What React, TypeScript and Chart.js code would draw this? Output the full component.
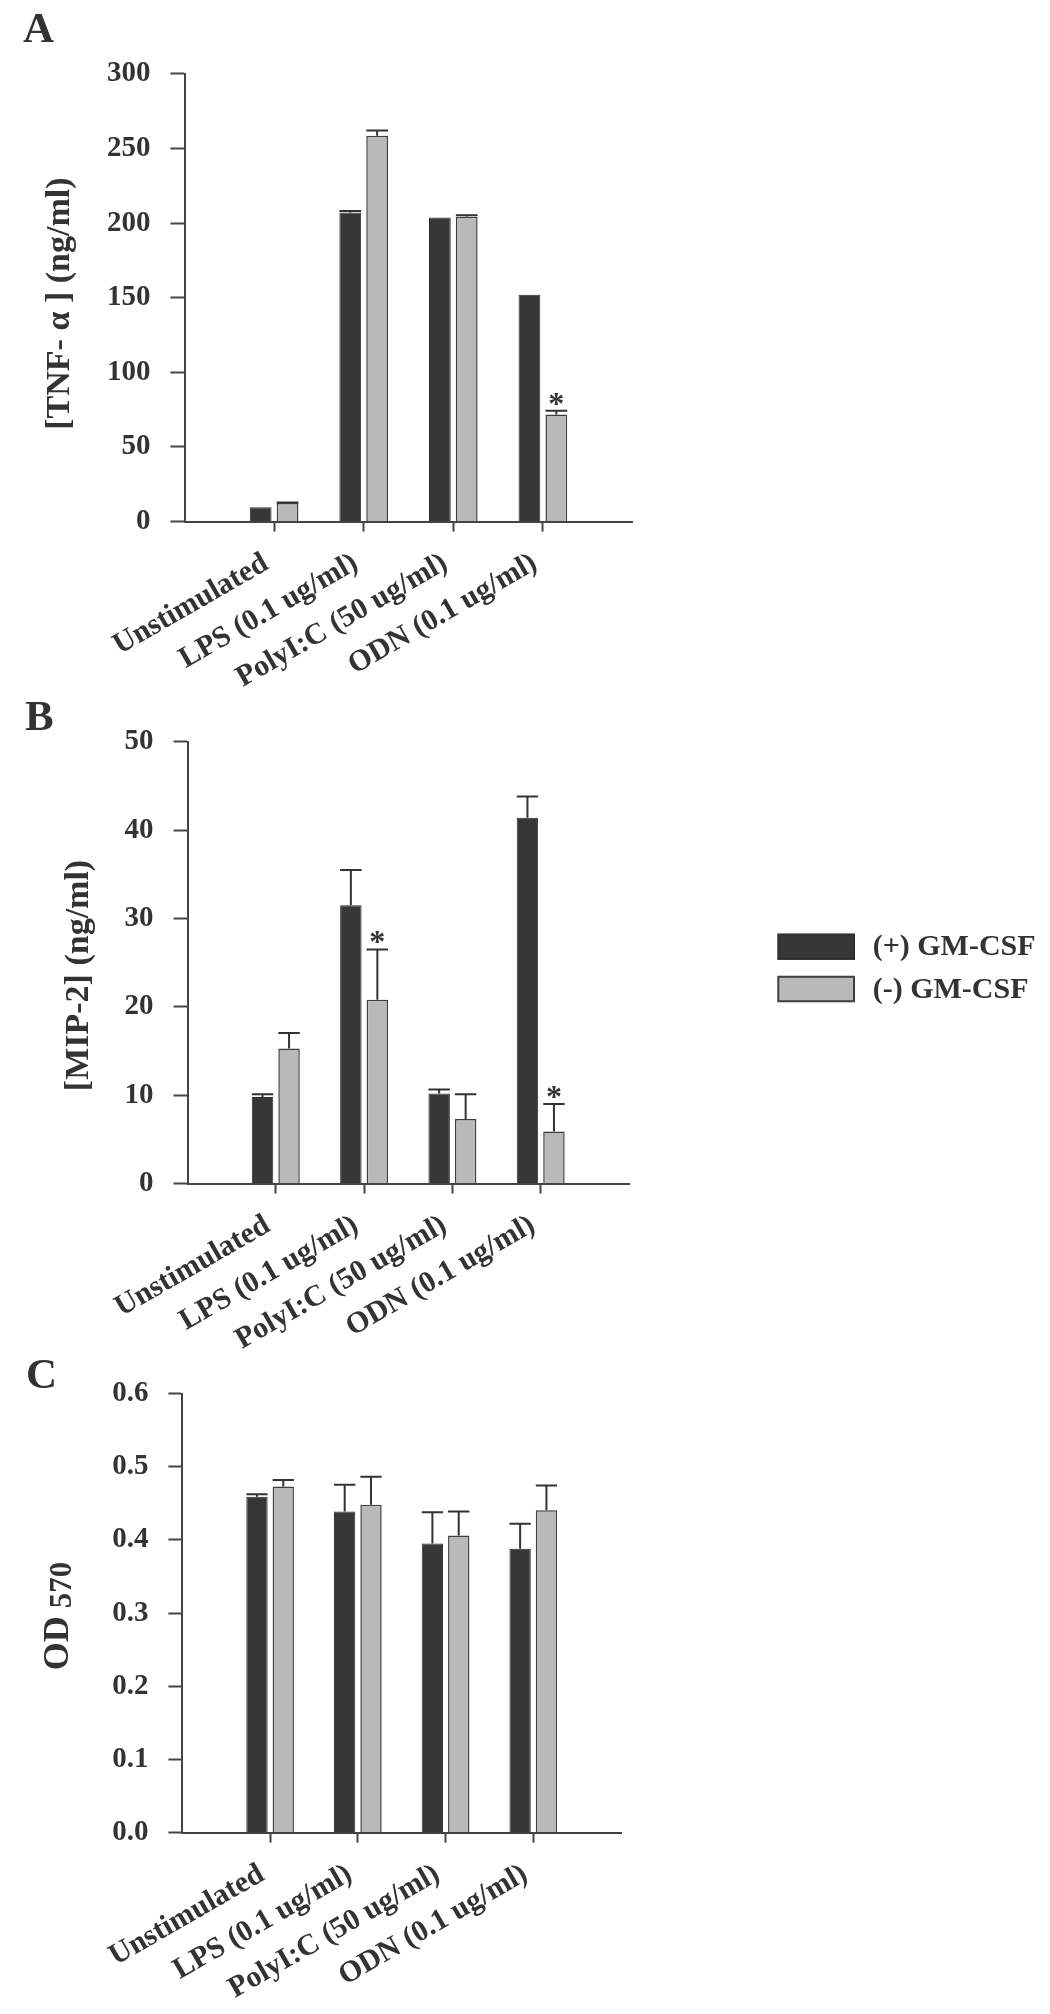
import React, { useEffect, useRef } from 'react';
import { Chart, registerables } from 'chart.js';

Chart.register(...registerables);

// ---------- data ----------
const categories = ['Unstimulated', 'LPS (0.1 ug/ml)', 'PolyI:C (50 ug/ml)', 'ODN (0.1 ug/ml)'];
const seriesLabels = ['(+) GM-CSF', '(-) GM-CSF'];

// Panel A: TNF-alpha (ng/ml)
const tnfPlus = [9.6, 207.1, 203.7, 152.0];
const tnfPlusErr = [0, 1, 0, 0];
const tnfMinus = [12.4, 258.6, 204.2, 71.8];
const tnfMinusErr = [0.4, 3.5, 1.0, 2.4];
const tnfStars = [[1, 3]]; // [series, category]
const tnfTicks = [0, 50, 100, 150, 200, 250, 300];

// Panel B: MIP-2 (ng/ml)
const mipPlus = [9.8, 31.5, 10.2, 41.4];
const mipPlusErr = [0.3, 4.0, 0.45, 2.4];
const mipMinus = [15.3, 20.8, 7.3, 5.9];
const mipMinusErr = [1.75, 5.7, 2.8, 3.1];
const mipStars = [[1, 1], [1, 3]];
const mipTicks = [0, 10, 20, 30, 40, 50];

// Panel C: OD 570
const odPlus = [0.459, 0.439, 0.395, 0.388];
const odPlusErr = [0.0035, 0.0365, 0.043, 0.034];
const odMinus = [0.473, 0.448, 0.406, 0.4405];
const odMinusErr = [0.009, 0.0385, 0.033, 0.034];
const odStars: number[][] = [];
const odTicks = [0, 0.1, 0.2, 0.3, 0.4, 0.5, 0.6];

// ---------- styles ----------
const FONT = '"Liberation Serif", "Times New Roman", serif';
const INK = '#333333';
const AXIS = '#444444';
const DARK = '#373737';
const DARK_BORDER = '#2e2e2e';
const GRAY = '#b9b9b9';
const GRAY_BORDER = '#3e3e3e';

const pad = (a: any[], fill: any = null) => [fill, ...a, fill];

type Part = { text: string; size: number; shift?: number; gap?: number };
type Spec = {
  top: number;
  height: number;
  area: { left: number; top: number; right: number; bottom: number };
  plus: number[];
  plusErr: number[];
  minus: number[];
  minusErr: number[];
  stars: number[][];
  ticks: number[];
  fmt: (v: number) => string;
  letter: { text: string; x: number; y: number };
  title: { x: number; y: number; parts: Part[] };
  legend?: { boxX: number; boxW: number; boxH: number; rows: number[]; textX: number };
};

function decorPlugin(spec: Spec) {
  return {
    id: 'decor_' + spec.letter.text,
    afterDatasetsDraw(chart: any) {
      const ctx = chart.ctx;
      const ys = chart.scales.y;
      const vals = [pad(spec.plus), pad(spec.minus)];
      const errs = [pad(spec.plusErr), pad(spec.minusErr)];
      const caps: number[][] = [[], []];
      ctx.save();
      ctx.strokeStyle = INK;
      ctx.lineWidth = 2;
      for (let d = 0; d < 2; d++) {
        const meta = chart.getDatasetMeta(d);
        meta.data.forEach((el: any, i: number) => {
          const v = vals[d][i];
          if (v == null) return;
          const e = errs[d][i] || 0;
          const capY = ys.getPixelForValue(v + e);
          caps[d][i] = capY;
          if (e <= 0) return;
          const half = el.width / 2;
          ctx.beginPath();
          ctx.moveTo(el.x, el.y);
          ctx.lineTo(el.x, capY);
          ctx.moveTo(el.x - half, capY);
          ctx.lineTo(el.x + half, capY);
          ctx.stroke();
        });
      }
      ctx.fillStyle = INK;
      ctx.font = `bold 32px ${FONT}`;
      ctx.textAlign = 'center';
      ctx.textBaseline = 'alphabetic';
      spec.stars.forEach(([d, c]) => {
        const el = chart.getDatasetMeta(d).data[c + 1];
        ctx.fillText('*', el.x, caps[d][c + 1] + 3);
      });
      ctx.restore();
    },
    afterDraw(chart: any) {
      const ctx = chart.ctx;
      ctx.save();
      ctx.fillStyle = INK;
      // panel letter
      ctx.font = `bold 43px ${FONT}`;
      ctx.textAlign = 'left';
      ctx.textBaseline = 'alphabetic';
      ctx.fillText(spec.letter.text, spec.letter.x, spec.letter.y);
      // y title (rotated)
      const parts = spec.title.parts;
      let total = 0;
      const widths = parts.map((p) => {
        ctx.font = `bold ${p.size}px ${FONT}`;
        const w = ctx.measureText(p.text).width + (p.gap || 0);
        total += w;
        return w;
      });
      ctx.translate(spec.title.x, spec.title.y);
      ctx.rotate(-Math.PI / 2);
      ctx.textAlign = 'left';
      ctx.textBaseline = 'middle';
      let cx = -total / 2;
      parts.forEach((p, i) => {
        ctx.font = `bold ${p.size}px ${FONT}`;
        cx += p.gap || 0;
        ctx.fillText(p.text, cx, p.shift || 0);
        cx += widths[i] - (p.gap || 0);
      });
      ctx.restore();
      // legend
      if (spec.legend) {
        const lg = spec.legend;
        ctx.save();
        chart.data.datasets.forEach((ds: any, i: number) => {
          const y = lg.rows[i];
          ctx.fillStyle = ds.backgroundColor;
          ctx.fillRect(lg.boxX, y - lg.boxH / 2, lg.boxW, lg.boxH);
          ctx.strokeStyle = ds.borderColor;
          ctx.lineWidth = 2;
          ctx.strokeRect(lg.boxX, y - lg.boxH / 2, lg.boxW, lg.boxH);
          ctx.fillStyle = INK;
          ctx.font = `bold 30px ${FONT}`;
          ctx.textAlign = 'left';
          ctx.textBaseline = 'middle';
          ctx.fillText(ds.label, lg.textX, y + 1);
        });
        ctx.restore();
      }
    },
  };
}

function makeConfig(spec: Spec): any {
  const W = 1050;
  return {
    type: 'bar',
    data: {
      labels: pad(categories, ''),
      datasets: [
        {
          label: seriesLabels[0],
          data: pad(spec.plus),
          backgroundColor: DARK,
          borderColor: DARK_BORDER,
          borderWidth: 1,
        },
        {
          label: seriesLabels[1],
          data: pad(spec.minus),
          backgroundColor: GRAY,
          borderColor: GRAY_BORDER,
          borderWidth: 1.5,
        },
      ],
    },
    options: {
      responsive: false,
      animation: false,
      events: [],
      layout: {
        padding: { top: spec.area.top, left: 0, right: W - spec.area.right, bottom: 0 },
      },
      datasets: { bar: { categoryPercentage: 0.6, barPercentage: 0.81 } },
      plugins: { legend: { display: false }, tooltip: { enabled: false } },
      scales: {
        x: {
          type: 'category',
          offset: false,
          grid: {
            offset: false,
            drawOnChartArea: false,
            drawTicks: true,
            tickLength: 10,
            tickWidth: 2,
            tickColor: (c: any) => (c.index === 0 || c.index === categories.length + 1 ? 'rgba(0,0,0,0)' : AXIS),
          },
          border: { display: true, color: AXIS, width: 2 },
          ticks: {
            autoSkip: false,
            minRotation: 30,
            maxRotation: 30,
            padding: 14,
            labelOffset: -8,
            color: INK,
            font: { family: FONT, size: 30, weight: 'bold' },
          },
          afterFit: (s: any) => {
            s.height = spec.height - spec.area.bottom;
          },
        },
        y: {
          min: spec.ticks[0],
          max: spec.ticks[spec.ticks.length - 1],
          afterBuildTicks: (s: any) => {
            s.ticks = spec.ticks.map((v) => ({ value: v }));
          },
          grid: {
            drawOnChartArea: false,
            drawTicks: true,
            tickLength: 14,
            tickWidth: 2,
            tickColor: AXIS,
          },
          border: { display: true, color: AXIS, width: 2 },
          ticks: {
            padding: 20,
            color: INK,
            font: { family: FONT, size: 29, weight: 'bold' },
            callback: (v: any) => spec.fmt(Number(v)),
          },
          afterFit: (s: any) => {
            s.width = spec.area.left;
          },
        },
      },
    },
    plugins: [decorPlugin(spec)],
  };
}

const specs: Spec[] = [
  {
    top: 0,
    height: 730,
    area: { left: 184.5, top: 73.9, right: 632.5, bottom: 521.6 },
    plus: tnfPlus,
    plusErr: tnfPlusErr,
    minus: tnfMinus,
    minusErr: tnfMinusErr,
    stars: tnfStars,
    ticks: tnfTicks,
    fmt: (v) => String(v),
    letter: { text: 'A', x: 23, y: 42 },
    title: { x: 60.5, y: 303.6, parts: [{ text: '[TNF- α ] (ng/ml)', size: 34 }] },
  },
  {
    top: 680,
    height: 700,
    area: { left: 187.5, top: 61.8, right: 629, bottom: 503.6 },
    plus: mipPlus,
    plusErr: mipPlusErr,
    minus: mipMinus,
    minusErr: mipMinusErr,
    stars: mipStars,
    ticks: mipTicks,
    fmt: (v) => String(v),
    letter: { text: 'B', x: 25, y: 50 },
    title: { x: 79.4, y: 295.5, parts: [{ text: '[MIP-2] (ng/ml)', size: 34 }] },
    legend: { boxX: 778.3, boxW: 75.7, boxH: 24.5, rows: [266.7, 309], textX: 872.7 },
  },
  {
    top: 1340,
    height: 674,
    area: { left: 182.4, top: 53.6, right: 621, bottom: 492.6 },
    plus: odPlus,
    plusErr: odPlusErr,
    minus: odMinus,
    minusErr: odMinusErr,
    stars: odStars,
    ticks: odTicks,
    fmt: (v) => v.toFixed(1),
    letter: { text: 'C', x: 26, y: 48 },
    title: {
      x: 59,
      y: 276,
      parts: [
        { text: 'OD', size: 36 },
        { text: '570', size: 31, shift: 4, gap: 8 },
      ],
    },
  },
];

export default function App() {
  const refs = [useRef<HTMLCanvasElement>(null), useRef<HTMLCanvasElement>(null), useRef<HTMLCanvasElement>(null)];

  useEffect(() => {
    const charts = specs.map((s, i) => new Chart(refs[i].current as HTMLCanvasElement, makeConfig(s)));
    return () => charts.forEach((c) => c.destroy());
  }, []);

  return (
    <div style={{ position: 'absolute', left: 0, top: 0, width: 1050, height: 2014, background: '#ffffff' }}>
      {specs.map((s, i) => (
        <canvas
          key={i}
          ref={refs[i]}
          width={1050}
          height={s.height}
          style={{ position: 'absolute', left: 0, top: s.top, width: 1050, height: s.height }}
        />
      ))}
    </div>
  );
}
